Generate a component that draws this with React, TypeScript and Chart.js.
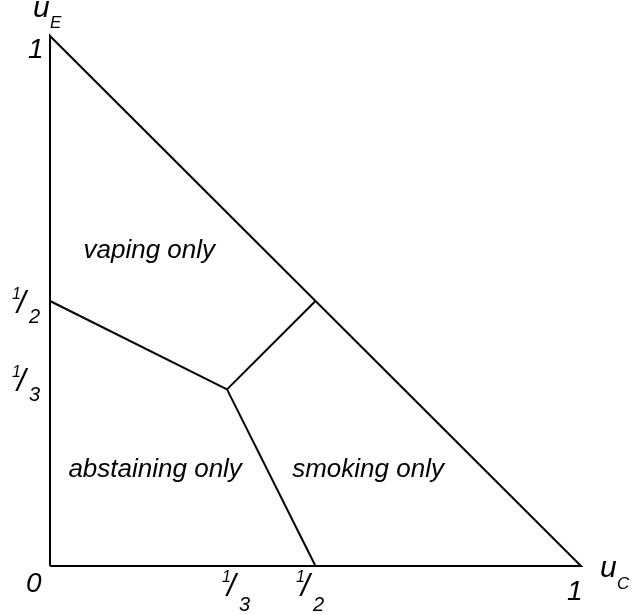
import React, { useEffect, useRef } from "react";
import { Chart, registerables } from "chart.js";

Chart.register(...registerables);

// ---- data ----
const triangleX = [0, 1, 0, 0];
const triangleY = [0, 0, 1, 0];
const centerPoint = [1 / 3, 1 / 3];
const boundaryEndX = [0, 0.5, 0.5];
const boundaryEndY = [0.5, 0, 0.5];

const xTickValues = [0, 1 / 3, 1 / 2, 1];
const xTickNum = ["0", "1", "1", "1"];
const xTickDen = ["", "3", "2", ""];
const yTickValues = [1 / 3, 1 / 2, 1];
const yTickNum = ["1", "1", "1"];
const yTickDen = ["3", "2", ""];

const regionLabels = ["vaping only", "abstaining only", "smoking only"];
const regionX = [0.187, 0.198, 0.599];
const regionY = [0.581, 0.168, 0.168];

const axisNames = ["u", "u"];
const axisSubs = ["C", "E"];

// ---- style / layout (pixel offsets) ----
const FONT = '"Liberation Sans", Arial, Helvetica, sans-serif';
const xTickOffsets = [
  { dx: -24, dy: 26 },
  { dx: -5, dy: 16 },
  { dx: -19.5, dy: 16 },
  { dx: -14, dy: 34 },
];
const yTickOffsets = [
  { dx: -38, dy: -12 },
  { dx: -38, dy: -2 },
  { dx: -22, dy: 22 },
];

const labelPlugin = {
  id: "labels",
  afterDraw(chart: any) {
    const ctx = chart.ctx;
    const xs = chart.scales.x;
    const ys = chart.scales.y;
    const x0 = xs.getPixelForValue(0);
    const y0 = ys.getPixelForValue(0);
    ctx.save();
    ctx.fillStyle = "#000";
    ctx.textBaseline = "alphabetic";
    ctx.textAlign = "left";

    const drawTick = (num: string, den: string, lx: number, by: number, dyDen: number) => {
      if (!den) {
        ctx.font = `italic 28px ${FONT}`;
        ctx.fillText(num, lx, by);
        return;
      }
      ctx.font = `italic 16px ${FONT}`;
      ctx.fillText(num, lx, by);
      ctx.font = `italic 31px ${FONT}`;
      ctx.fillText("/", lx + 5, by + 14);
      ctx.font = `italic 20px ${FONT}`;
      ctx.fillText(den, lx + 17, by + dyDen);
    };

    xTickValues.forEach((v, i) => {
      const px = xs.getPixelForValue(v);
      const o = xTickOffsets[i];
      drawTick(xTickNum[i], xTickDen[i], px + o.dx, y0 + o.dy, 29);
    });
    yTickValues.forEach((v, i) => {
      const py = ys.getPixelForValue(v);
      const o = yTickOffsets[i];
      drawTick(yTickNum[i], yTickDen[i], x0 + o.dx, py + o.dy, 24);
    });

    // axis names
    const xEnd = xs.getPixelForValue(1);
    const yEnd = ys.getPixelForValue(1);
    ctx.font = `italic 30px ${FONT}`;
    ctx.fillText(axisNames[0], xEnd + 19, y0 + 11);
    ctx.fillText(axisNames[1], x0 - 17, yEnd - 19);
    ctx.font = `italic 17px ${FONT}`;
    ctx.fillText(axisSubs[0], xEnd + 36, y0 + 23);
    ctx.fillText(axisSubs[1], x0, yEnd - 8);

    // region labels
    ctx.font = `italic 26px ${FONT}`;
    ctx.textAlign = "center";
    regionLabels.forEach((t, i) => {
      ctx.fillText(t, xs.getPixelForValue(regionX[i]), ys.getPixelForValue(regionY[i]));
    });
    ctx.restore();
  },
};

export default function App() {
  const ref = useRef<HTMLCanvasElement>(null);
  useEffect(() => {
    if (!ref.current) return;
    const lineDs = (pts: { x: number; y: number }[]) => ({
      data: pts,
      showLine: true,
      borderColor: "#000",
      backgroundColor: "#000",
      borderWidth: 2,
      pointRadius: 0,
      pointHoverRadius: 0,
      clip: false as any,
      borderJoinStyle: "miter" as const,
      borderCapStyle: "butt" as const,
    });
    const datasets: any[] = [
      lineDs(triangleX.map((x, i) => ({ x, y: triangleY[i] }))),
      ...boundaryEndX.map((x, i) =>
        lineDs([
          { x: centerPoint[0], y: centerPoint[1] },
          { x, y: boundaryEndY[i] },
        ])
      ),
    ];
    const chart = new Chart(ref.current, {
      type: "scatter",
      data: { datasets },
      options: {
        animation: false,
        responsive: false,
        devicePixelRatio: 1,
        events: [],
        layout: { padding: { left: 50, top: 36, right: 51, bottom: 49 } },
        plugins: { legend: { display: false }, tooltip: { enabled: false } },
        scales: {
          x: { type: "linear", min: 0, max: 1, display: false },
          y: { type: "linear", min: 0, max: 1, display: false },
        },
      },
      plugins: [labelPlugin],
    });
    return () => chart.destroy();
  }, []);
  return (
    <div style={{ position: "absolute", left: 0, top: 0, width: 632, height: 615, background: "#fff" }}>
      <canvas ref={ref} width={632} height={615} style={{ display: "block" }} />
    </div>
  );
}
